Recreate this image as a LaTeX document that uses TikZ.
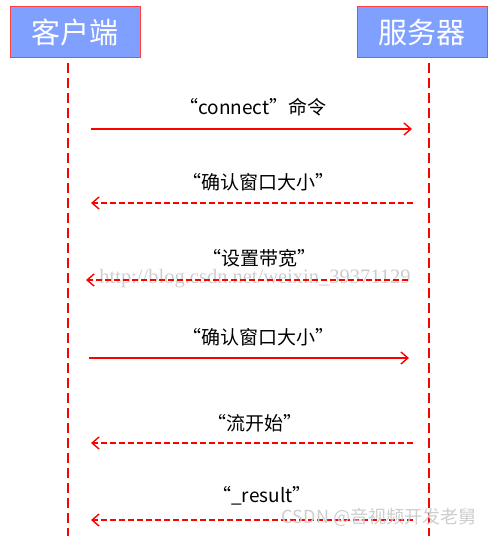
\documentclass[tikz,border=0pt]{standalone}
\usepackage{fontspec}
\setmainfont{Noto Sans CJK SC}
\newfontfamily\urlfont{Liberation Serif}
\usetikzlibrary{arrows.meta}
\definecolor{boxblue}{RGB}{128,160,255}
\definecolor{mark}{RGB}{205,205,205}

\begin{document}
\begin{tikzpicture}
  [x=1pt, y=-1pt,
   party/.style={draw=red!75!white, fill=boxblue, text=white, inner sep=0pt,
     minimum width=130pt, minimum height=51pt, font=\fontsize{29}{29}\selectfont},
   lifeline/.style={red, line width=1.4pt, dash pattern=on 10pt off 5pt},
   msg/.style={red, line width=1.4pt, -{Straight Barb[length=7pt,width=12pt]}},
   reply/.style={msg, dash pattern=on 6pt off 3pt},
   label/.style={font=\fontsize{19}{19}\selectfont, inner sep=0pt},
   watermark/.style={text=mark, inner sep=0pt}]
  \useasboundingbox (0,0) rectangle (499,536);
  \node[party] (client) at (75,32) {客户端};
  \node[party] (server) at (422,32) {服务器};
  \coordinate (clienttop) at (68,63);
  \coordinate (servertop) at (429,63);
  \draw[lifeline] (clienttop) -- (68,536);
  \draw[lifeline] (servertop) -- (429,536);
  \foreach \i/\y/\lx/\ly/\txt in {
      1/129/253/107/{“connect”命令},
      2/203/258/182/{“确认窗口大小”},
      3/280/259/258/{“设置带宽”},
      4/358/258/337/{“确认窗口大小”},
      5/443/255/423/{“流开始”},
      6/520/262/496/{“\_result”}} {
    \coordinate (c\i) at (68,\y);
    \coordinate (s\i) at (429,\y);
    \node[label] (m\i) at (\lx,\ly) {\txt};
  }
  \draw[msg, shorten <=23pt, shorten >=17pt] (c1) -- (s1);
  \draw[reply, shorten <=16pt, shorten >=23pt] (s2) -- (c2);
  \node[watermark, font=\urlfont\fontsize{20.5}{20.5}\selectfont] (url) at (255,279) {http://blog.csdn.net/weixin\_39371129};
  \draw[reply, shorten <=21pt, shorten >=18pt] (s3) -- (c3);
  \draw[msg, shorten <=21pt, shorten >=20pt] (c4) -- (s4);
  \draw[reply, shorten <=16pt, shorten >=23pt] (s5) -- (c5);
  \draw[reply, shorten <=16pt, shorten >=23pt] (s6) -- (c6);
  \node[watermark, font=\fontsize{18}{18}\selectfont] (csdn) at (379,517) {CSDN @音视频开发老舅};
\end{tikzpicture}
\end{document}
